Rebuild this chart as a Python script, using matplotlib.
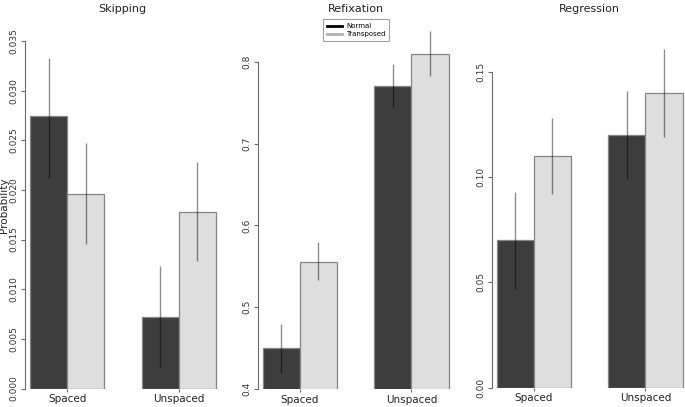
import numpy as np
import matplotlib.pyplot as plt
from matplotlib.lines import Line2D

# data
conditions = ['Spaced', 'Unspaced']
titles = ['Skipping', 'Refixation', 'Regression']

normal_mean = [[0.0274, 0.0072], [0.45, 0.771], [0.070, 0.120]]
normal_lo = [[0.0212, 0.0022], [0.420, 0.745], [0.047, 0.099]]
normal_hi = [[0.0333, 0.0123], [0.480, 0.797], [0.093, 0.141]]

transp_mean = [[0.0196, 0.0178], [0.555, 0.810], [0.110, 0.140]]
transp_lo = [[0.0146, 0.0128], [0.533, 0.783], [0.092, 0.119]]
transp_hi = [[0.0247, 0.0228], [0.580, 0.838], [0.128, 0.161]]

ytick_vals = [[0, 0.005, 0.01, 0.015, 0.02, 0.025, 0.03, 0.035],
              [0.4, 0.5, 0.6, 0.7, 0.8],
              [0, 0.05, 0.10, 0.15]]
ytick_txt = [['0.000', '0.005', '0.010', '0.015', '0.020', '0.025', '0.030', '0.035'],
             ['0.4', '0.5', '0.6', '0.7', '0.8'],
             ['0.00', '0.05', '0.10', '0.15']]
ylims = [(0, 0.0361), (0.4, 0.8391), (0, 0.170)]

# layout in pixels: (left, right, bottom, top)
W, H = 685, 407
boxes = [(25, 220, 388.5, 30), (257.5, 454, 389, 30), (491.5, 687.5, 387.5, 30)]

dark = '#3d3d3d'
light = '#dedede'
edge = '#858585'

fig = plt.figure(figsize=(W / 100, H / 100), dpi=100)

for i in range(3):
    l, r, b, t = boxes[i]
    ax = fig.add_axes([l / W, 1 - b / H, (r - l) / W, (b - t) / H])
    ax.patch.set_alpha(0)

    x_norm = np.array([1.5, 4.5])
    x_tr = np.array([2.5, 5.5])
    ax.bar(x_norm, normal_mean[i], width=1, color=dark, edgecolor=edge, linewidth=0.9)
    ax.bar(x_tr, transp_mean[i], width=1, color=light, edgecolor=edge, linewidth=0.9)
    ax.vlines(x_norm, normal_lo[i], normal_hi[i], color='black', alpha=0.45, linewidth=1)
    ax.vlines(x_tr, transp_lo[i], transp_hi[i], color='black', alpha=0.45, linewidth=1)

    ax.set_xlim(0.865, 0.865 + (r - l) / 37.2)
    ax.set_ylim(*ylims[i])

    for s in ['top', 'right', 'bottom']:
        ax.spines[s].set_visible(False)
    ax.spines['left'].set_color('#6a6a6a')
    ax.spines['left'].set_linewidth(0.8)
    ax.spines['left'].set_bounds(ytick_vals[i][0], ytick_vals[i][-1])

    ax.set_yticks(ytick_vals[i])
    ax.set_yticklabels(ytick_txt[i], rotation=90, va='center')
    ax.tick_params(axis='y', length=3, width=0.8, color='#6a6a6a', pad=1.5,
                   labelsize=6.5, labelcolor='#333333')
    ax.set_xticks([2, 5])
    ax.set_xticklabels(conditions)
    ax.tick_params(axis='x', length=2.5, width=0.8, color='#6a6a6a', pad=1.5,
                   labelsize=7.5, labelcolor='#222222')

    fig.text(((l + r) / 2) / W, 1 - 9 / H, titles[i], ha='center', va='center',
             fontsize=8, color='#222222')

    if i == 1:
        handles = [Line2D([], [], color='black', lw=2),
                   Line2D([], [], color='#b0b0b0', lw=2)]
        leg = ax.legend(handles, ['Normal', 'Transposed'], loc='center',
                        bbox_to_anchor=(356 / W, 1 - 30 / H), bbox_transform=fig.transFigure,
                        fontsize=5, frameon=True, fancybox=False, handlelength=2.2,
                        borderpad=0.5, labelspacing=0.3, handletextpad=0.6)
        leg.get_frame().set_edgecolor('#888888')
        leg.get_frame().set_linewidth(0.8)

fig.text(4 / W, 1 - 205 / H, 'Probability', rotation=90, ha='center', va='center',
         fontsize=7.5, color='#222222')

fig.savefig('out.png', dpi=100)
